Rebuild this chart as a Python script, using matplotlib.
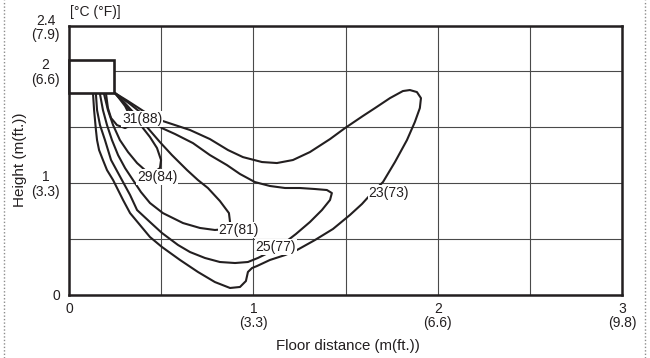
import matplotlib.pyplot as plt
from matplotlib.lines import Line2D
from matplotlib.patches import Rectangle

plt.rcParams['font.family'] = ['Liberation Sans', 'DejaVu Sans']

INK = '#231f20'

# isotherm temperatures, deg C and deg F
temps_c = [23, 25, 27, 29, 31]
temps_f = [73, 77, 81, 84, 88]

# each isotherm is a loop leaving the indoor unit (floor distance m, height m)
x23 = [0.130, 0.136, 0.146, 0.152, 0.163, 0.184, 0.206, 0.239, 0.266, 0.293,
       0.331, 0.385, 0.439, 0.504, 0.602, 0.699, 0.791, 0.873, 0.927, 0.959,
       0.970, 0.992, 1.019, 1.089, 1.171, 1.236, 1.333, 1.431, 1.523, 1.588,
       1.642, 1.702, 1.767, 1.832, 1.875, 1.902, 1.908, 1.886, 1.848, 1.810,
       1.740, 1.659, 1.593, 1.496, 1.415, 1.306, 1.214, 1.127, 1.046, 0.943,
       0.862, 0.764, 0.656, 0.509, 0.412, 0.320, 0.249]
y23 = [1.801, 1.649, 1.471, 1.381, 1.292, 1.203, 1.113, 1.024, 0.935, 0.846,
       0.729, 0.622, 0.515, 0.426, 0.310, 0.203, 0.113, 0.060, 0.069, 0.122,
       0.203, 0.238, 0.256, 0.310, 0.354, 0.399, 0.488, 0.587, 0.712, 0.810,
       0.908, 1.006, 1.185, 1.381, 1.543, 1.667, 1.756, 1.810, 1.828, 1.819,
       1.756, 1.667, 1.596, 1.488, 1.390, 1.274, 1.203, 1.176, 1.185, 1.229,
       1.292, 1.390, 1.471, 1.551, 1.631, 1.729, 1.801]

x25 = [0.146, 0.152, 0.168, 0.195, 0.228, 0.287, 0.331, 0.369, 0.439, 0.504,
       0.591, 0.656, 0.737, 0.818, 0.900, 0.970, 1.024, 1.089, 1.160, 1.230,
       1.306, 1.371, 1.415, 1.425, 1.398, 1.333, 1.252, 1.171, 1.089, 1.008,
       0.927, 0.856, 0.764, 0.672, 0.575, 0.504, 0.412, 0.331, 0.249]
y25 = [1.792, 1.649, 1.515, 1.381, 1.203, 1.024, 0.891, 0.756, 0.649, 0.551,
       0.444, 0.381, 0.328, 0.292, 0.283, 0.292, 0.328, 0.381, 0.453, 0.542,
       0.649, 0.756, 0.846, 0.908, 0.935, 0.944, 0.953, 0.953, 0.971, 1.006,
       1.078, 1.158, 1.247, 1.354, 1.435, 1.488, 1.596, 1.703, 1.801]

x27 = [0.168, 0.184, 0.206, 0.233, 0.266, 0.304, 0.347, 0.390, 0.439, 0.509,
       0.618, 0.710, 0.791, 0.851, 0.873, 0.867, 0.818, 0.753, 0.699, 0.640,
       0.558, 0.493, 0.423, 0.358, 0.298, 0.249]
y27 = [1.792, 1.649, 1.515, 1.381, 1.247, 1.131, 1.024, 0.917, 0.819, 0.729,
       0.640, 0.596, 0.578, 0.587, 0.649, 0.729, 0.837, 0.953, 1.024, 1.113,
       1.247, 1.363, 1.497, 1.613, 1.720, 1.801]

x29 = [0.190, 0.211, 0.239, 0.276, 0.320, 0.369, 0.412, 0.455, 0.493, 0.499,
       0.477, 0.439, 0.401, 0.347, 0.298, 0.249]
y29 = [1.792, 1.649, 1.515, 1.381, 1.274, 1.176, 1.113, 1.087, 1.131, 1.203,
       1.310, 1.408, 1.488, 1.605, 1.712, 1.801]

x31 = [0.201, 0.211, 0.228, 0.260, 0.304, 0.347, 0.331, 0.304, 0.271, 0.249]
y31 = [1.792, 1.667, 1.578, 1.515, 1.488, 1.525, 1.596, 1.685, 1.756, 1.801]

# where each temperature tag sits on its loop
tag_x = [1.734, 1.122, 0.921, 0.477, 0.396]
tag_y = [0.908, 0.426, 0.578, 1.051, 1.569]

# indoor unit outline: x0, y0, width, height in m
unit_box = [0.0, 1.80, 0.245, 0.295]

xticks = [0, 1, 2, 3]
xtick_labels = ['0', '1\n(3.3)', '2\n(6.6)', '3\n(9.8)']
yticks = [0, 1, 2, 2.4]
ytick_labels = ['0', '1\n(3.3)', '2\n(6.6)', '2.4\n(7.9)']

fig = plt.figure(figsize=(6.5, 3.58), dpi=100)
ax = fig.add_axes([69 / 650, 1 - 294.7 / 358, (622.4 - 69) / 650, (294.7 - 26) / 358])

loops = [(x23, y23), (x25, y25), (x27, y27), (x29, y29), (x31, y31)]
for xs, ys in loops:
    ax.plot(xs, ys, color=INK, lw=1.5, solid_joinstyle='round',
            solid_capstyle='round', zorder=3)

ax.add_patch(Rectangle((unit_box[0], unit_box[1]), unit_box[2], unit_box[3],
                       fc='white', ec=INK, lw=1.9, zorder=4, clip_on=False))

for tc, tf, tx, ty in zip(temps_c, temps_f, tag_x, tag_y):
    ax.text(tx, ty, f'{tc}({tf})', ha='center', va='center', fontsize=10,
            color=INK, zorder=5,
            bbox=dict(boxstyle='square,pad=0.05', fc='white', ec='none'))

ax.set_xlim(0, 3)
ax.set_ylim(0, 2.4)
ax.set_xticks(xticks)
ax.set_xticklabels(xtick_labels, fontsize=10, color=INK, linespacing=1.05)
ax.set_yticks(yticks)
ax.set_yticklabels(ytick_labels, fontsize=10, color=INK, linespacing=1.05)
for lbl in ax.get_yticklabels():
    lbl.set_multialignment('center')
ax.set_xticks([0.5, 1.5, 2.5], minor=True)
ax.set_yticks([0.5, 1.5], minor=True)
ax.tick_params(which='both', length=0)
ax.tick_params(axis='x', pad=5)
ax.tick_params(axis='y', pad=6.5)
ax.grid(which='both', color='#4a4a4a', lw=0.8)
ax.set_axisbelow(True)
for sp in ax.spines.values():
    sp.set_linewidth(1.8)
    sp.set_color(INK)

fig.text(70 / 650, 1 - 12 / 358, '[°C (°F)]', ha='left', va='center',
         fontsize=10, color=INK)
fig.text(20 / 650, 1 - 160 / 358, 'Height (m(ft.))', rotation=90,
         ha='center', va='center', fontsize=11, color=INK)
fig.text(348 / 650, 1 - 346 / 358, 'Floor distance (m(ft.))',
         ha='center', va='center', fontsize=10.8, color=INK)

# dotted frame edges
for xf in (4 / 650, 645 / 650):
    fig.add_artist(Line2D([xf, xf], [0, 1], color='#8c8c8c', lw=1,
                          ls=(0, (1, 1.5))))

fig.savefig('out.png', dpi=100)
